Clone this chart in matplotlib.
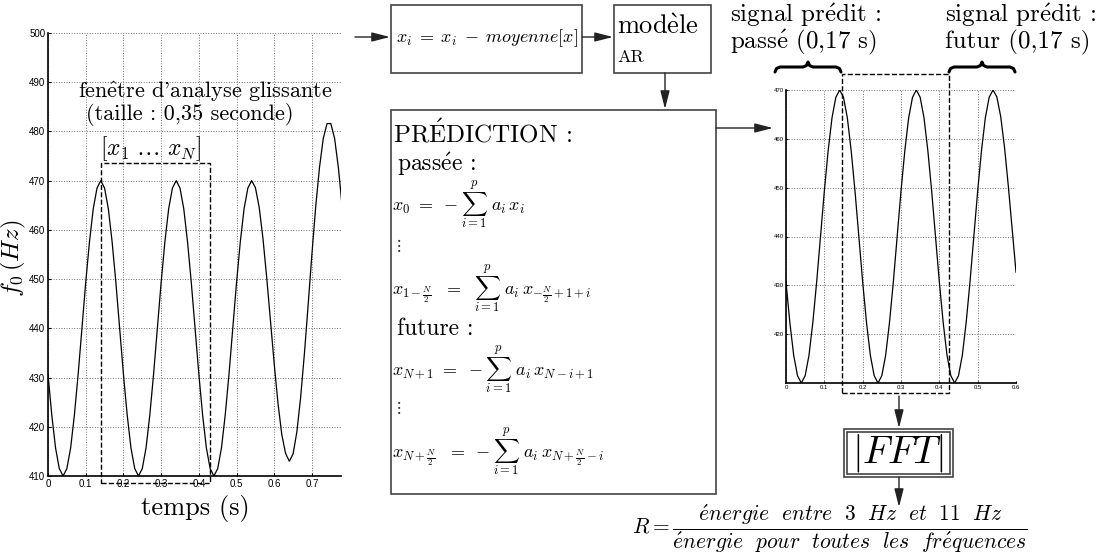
import numpy as np
import matplotlib.pyplot as plt
from matplotlib.patches import Rectangle

plt.rcParams['mathtext.fontset'] = 'cm'
plt.rcParams['font.family'] = ['cmr10', 'DejaVu Serif']
plt.rcParams['axes.unicode_minus'] = False
plt.rcParams['axes.formatter.use_mathtext'] = True

W, H = 1105, 556

# f0 contour (Hz), sampled every 10 ms
t = np.round(np.arange(0, 0.79, 0.01), 2)
f0 = [430.7, 422.4, 415.7, 411.5, 410.0, 411.5, 415.7, 422.4, 430.7, 440.0,
      449.3, 457.6, 464.3, 468.5, 470.0, 468.5, 464.3, 457.6, 449.3, 440.0,
      430.7, 422.4, 415.7, 411.5, 410.0, 411.5, 415.7, 422.4, 430.7, 440.0,
      449.3, 457.6, 464.3, 468.5, 470.0, 468.5, 464.3, 457.6, 449.3, 440.0,
      430.7, 422.4, 415.7, 411.5, 410.0, 411.5, 415.7, 422.4, 430.7, 440.0,
      449.3, 457.6, 464.3, 468.5, 470.0, 468.6, 464.6, 458.3, 450.3, 441.5,
      432.7, 424.7, 418.4, 414.6, 413.0, 414.5, 419.0, 426.0, 434.9, 444.9,
      455.2, 464.8, 472.7, 478.6, 481.6, 481.6, 478.6, 472.7, 464.8]

# predicted signal (past + window + future), 0 .. 0.6 s
t_pred = t[:61]
f0_pred = f0[:61]

# analysis window (s)
win_left = (0.14, 0.43)
win_right = (0.145, 0.425)

left_xticks = [0, 0.1, 0.2, 0.3, 0.4, 0.5, 0.6, 0.7]
left_yticks = [410, 420, 430, 440, 450, 460, 470, 480, 490, 500]
right_xticks = [0, 0.1, 0.2, 0.3, 0.4, 0.5, 0.6]
right_yticks = [420, 430, 440, 450, 460, 470]

tickfont = ['Liberation Sans Narrow', 'Liberation Sans', 'DejaVu Sans']

# accented letters drawn through mathtext so they stay in Computer Modern
E_AC = r'$\acute{\mathrm{e}}$'
E_GR = r'$\grave{\mathrm{e}}$'
E_HAT = r'$\hat{\mathrm{e}}$'
CAP_E_AC = r'$\acute{\mathrm{E}}$'

fig = plt.figure(figsize=(W / 100, H / 100), dpi=100)


def style_axes(ax, xt, yt, fs):
    for s in ['top', 'right']:
        ax.spines[s].set_visible(False)
    for s in ['left', 'bottom']:
        ax.spines[s].set_linewidth(1.2)
    ax.grid(True, linestyle=':', color='0.45', lw=0.7)
    ax.set_xticks(xt)
    ax.set_yticks(yt)
    ax.set_xticklabels([('%g' % v) for v in xt], family=tickfont, fontsize=fs)
    ax.set_yticklabels([('%g' % v) for v in yt], family=tickfont, fontsize=fs)
    ax.tick_params(direction='in', length=2, pad=2)


# left plot
ax1 = fig.add_axes([48 / W, 1 - 476 / H, 293 / W, 443 / H])
ax1.plot(t, f0, color='k', lw=0.9)
ax1.set_xlim(0, 0.777)
ax1.set_ylim(410, 500)
style_axes(ax1, left_xticks, left_yticks, 7)
ax1.add_patch(Rectangle((win_left[0], 408.5), win_left[1] - win_left[0], 65,
                        fill=False, ls='--', lw=1.0, ec='k', clip_on=False))

# right plot
ax2 = fig.add_axes([786 / W, 1 - 383 / H, 230 / W, 293 / H])
ax2.plot(t_pred, f0_pred, color='k', lw=0.9)
ax2.set_xlim(0, 0.6)
ax2.set_ylim(410, 470)
style_axes(ax2, right_xticks, right_yticks, 4.3)
ax2.tick_params(length=1.5, pad=1.5)
ax2.add_patch(Rectangle((win_right[0], 408.0), win_right[1] - win_right[0], 65.3,
                        fill=False, ls='--', lw=1.0, ec='k', clip_on=False))

# overlay in pixel coordinates for the block diagram
ov = fig.add_axes([0, 0, 1, 1], zorder=5)
ov.set_xlim(0, W)
ov.set_ylim(H, 0)
ov.axis('off')
ov.patch.set_alpha(0)


def arrow(x0, y0, x1, y1):
    ov.annotate('', xy=(x1, y1), xytext=(x0, y0),
                arrowprops=dict(arrowstyle='-|>,head_length=1.1,head_width=0.28',
                                color='#222222', lw=1.0, shrinkA=0, shrinkB=0))


def box(x0, y0, x1, y1):
    ov.add_patch(Rectangle((x0, y0), x1 - x0, y1 - y0, fill=False,
                           ec='#444444', lw=1.2))


def brace(x0, x1, y):
    xm = (x0 + x1) / 2
    xs = [x0, x0 + 1.5, x0 + 5, xm - 5, xm - 1.5, xm, xm + 1.5, xm + 5, x1 - 5, x1 - 1.5, x1]
    ys = [y + 5, y + 1.5, y, y, y - 1.5, y - 5, y - 1.5, y, y, y + 1.5, y + 5]
    ov.plot(xs, ys, color='k', lw=2.2, solid_joinstyle='round', solid_capstyle='round')


# left plot labels
ov.text(13, 258, r'$f_0\,(Hz)$', fontsize=18, rotation=90, ha='center', va='center')
ov.text(195, 508, 'temps (s)', fontsize=19, ha='center', va='center')
ov.text(78, 92, 'fen' + E_HAT + "tre d'analyse glissante", fontsize=16, ha='left', va='center')
ov.text(86, 114, '(taille : 0,35 seconde)', fontsize=16, ha='left', va='center')
ov.text(100, 149, r'$[x_1\ \ldots\ x_N]$', fontsize=17, ha='left', va='center')

# top blocks
arrow(355, 37, 390, 37)
box(391, 5, 582, 73)
ov.text(487, 38, r'$x_i\;=\;x_i\;-\;moyenne[x]$', fontsize=13, ha='center', va='center')
arrow(582, 37, 613, 37)
box(614, 5, 711, 73)
ov.text(617, 27, 'mod' + E_GR + 'le', fontsize=19, ha='left', va='center')
ov.text(617, 57, 'AR', fontsize=13, ha='left', va='center')
arrow(665, 73, 665, 109)

# prediction block
box(391, 110, 716, 494)
ov.text(393, 133, 'PR' + CAP_E_AC + 'DICTION :', fontsize=18, ha='left', va='center')
ov.text(397, 164, 'pass' + E_AC + 'e :', fontsize=17, ha='left', va='center')
ov.text(392, 205, r'$x_0\ =\ -\sum_{i=1}^{p}\ a_i\, x_i$', fontsize=13, ha='left', va='center')
ov.text(394, 246, r'$\vdots$', fontsize=12, ha='left', va='center', color='0.2')
ov.text(392, 289, r'$x_{1-\frac{N}{2}}\ \ =\ \ \sum_{i=1}^{p}\ a_i\, x_{-\frac{N}{2}+1+i}$',
        fontsize=13, ha='left', va='center')
ov.text(397, 329, 'future :', fontsize=17, ha='left', va='center')
ov.text(392, 370, r'$x_{N+1}\ =\ -\sum_{i=1}^{p}\ a_i\, x_{N-i+1}$', fontsize=13, ha='left', va='center')
ov.text(394, 407, r'$\vdots$', fontsize=12, ha='left', va='center', color='0.2')
ov.text(392, 452, r'$x_{N+\frac{N}{2}}\ \ =\ -\sum_{i=1}^{p}\ a_i\, x_{N+\frac{N}{2}-i}$',
        fontsize=13, ha='left', va='center')
arrow(716, 128, 773, 128)

# right plot annotations
ov.text(730, 15, 'signal pr' + E_AC + 'dit :', fontsize=18, ha='left', va='center')
ov.text(730, 42, 'pass' + E_AC + ' (0,17 s)', fontsize=18, ha='left', va='center')
ov.text(945, 15, 'signal pr' + E_AC + 'dit :', fontsize=18, ha='left', va='center')
ov.text(945, 42, 'futur (0,17 s)', fontsize=18, ha='left', va='center')
brace(775, 841, 67)
brace(949, 1015, 67)

# FFT and ratio
arrow(899, 396, 899, 428)
box(844, 429, 953, 477)
box(847, 432, 950, 474)
ov.text(898, 453, r'$|FFT|$', fontsize=28, ha='center', va='center')
arrow(899, 477, 899, 507)
ov.text(632, 529,
        r'$R = \dfrac{\acute{e}nergie\ \ entre\ \ 3\ \ Hz\ \ et\ \ 11\ \ Hz}'
        r'{\acute{e}nergie\ \ pour\ \ toutes\ \ les\ \ fr\acute{e}quences}$',
        fontsize=15.5, ha='left', va='center')

fig.savefig('out.png', dpi=100)
